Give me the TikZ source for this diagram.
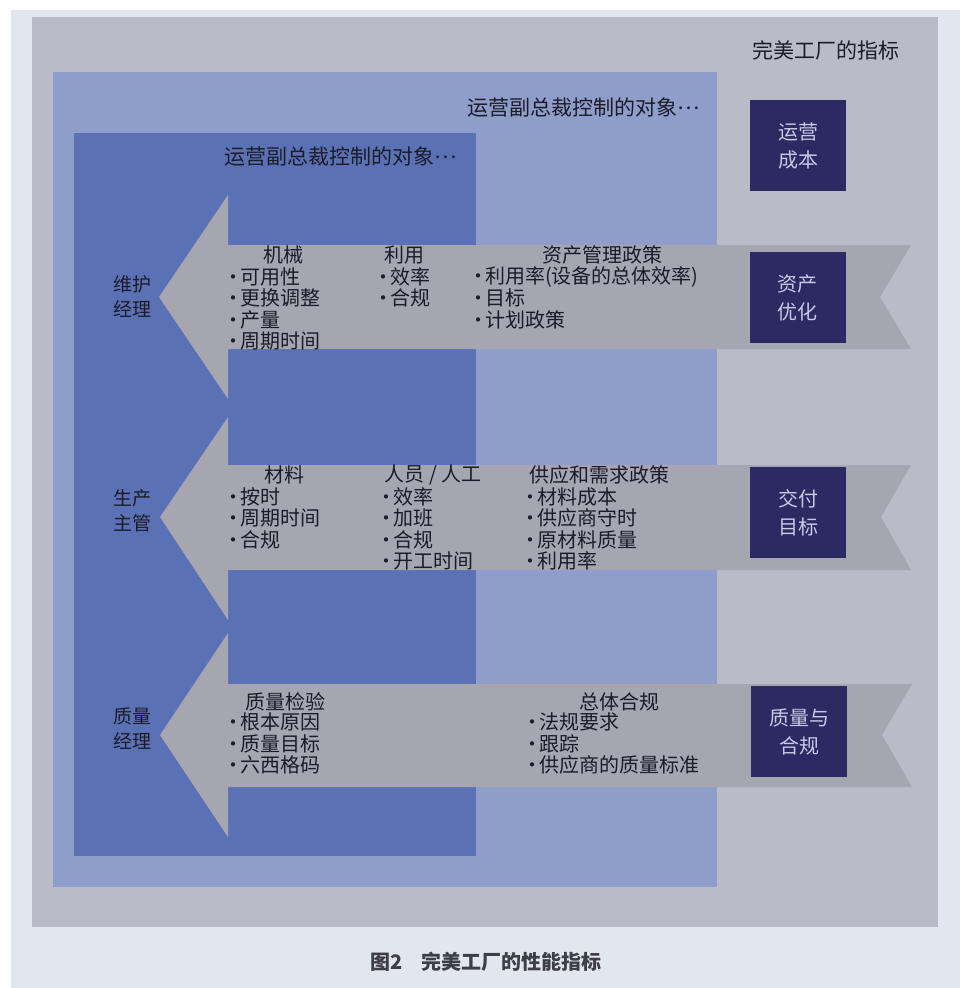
\documentclass[tikz,border=0pt]{standalone}
\usepackage{fontspec}
\setmainfont{Noto Sans CJK SC}
\definecolor{pagebg}{HTML}{E2E6EF}
\definecolor{panel}{HTML}{B9BBC6}
\definecolor{lightblue}{HTML}{8F9DCB}
\definecolor{darkblue}{HTML}{5B71B5}
\definecolor{arrowgray}{HTML}{A5A6AF}
\definecolor{navy}{HTML}{2C2A63}
\definecolor{boxtext}{HTML}{C8C9E6}
\definecolor{txt}{HTML}{1C1C28}
\newcommand{\mybul}{\makebox[13pt][c]{·}}
\newcommand{\myell}{\raisebox{0.32em}{…}}
\tikzset{
  bigarrow/.style={fill=arrowgray, draw=none},
  item/.style={font=\fontsize{20}{22}\selectfont, anchor=west, inner sep=0pt, text=txt},
  head/.style={font=\fontsize{20}{22}\selectfont, anchor=center, inner sep=0pt, text=txt},
  lefttag/.style={font=\fontsize{19}{25}\selectfont, align=center, inner sep=0pt, text=txt},
  navybox/.style={fill=navy, minimum width=96pt, minimum height=91pt, inner sep=0pt,
     align=center, text=boxtext, font=\fontsize{20}{28}\selectfont},
  vptext/.style={font=\fontsize{21}{23}\selectfont, inner sep=0pt, text=txt}
}
\begin{document}
\begin{tikzpicture}[x=1pt,y=-1pt]
\useasboundingbox (0,0) rectangle (962,988);
\fill[white] (0,0) rectangle (962,988);
\fill[pagebg] (11,10) rectangle (960,988);
\fill[panel] (32,17) rectangle (938,927);
\fill[lightblue] (53,72) rectangle (717,887);
\fill[darkblue] (74,133) rectangle (476,856);

% big arrows
\fill[bigarrow] (228,245) -- (911,245) -- (880,297) -- (911,349) -- (228,349)
  -- (228,399) -- (159,297) -- (228,195) -- cycle;
\fill[bigarrow] (228,465) -- (911,465) -- (881,517) -- (911,570) -- (228,570)
  -- (228,620) -- (160,517) -- (228,417) -- cycle;
\fill[bigarrow] (228,684) -- (912,684) -- (882,735) -- (912,787) -- (228,787)
  -- (228,837) -- (160,735) -- (228,633) -- cycle;

% titles
\node[vptext] (title) at (826,50) {完美工厂的指标};
\node[vptext, anchor=west] (vpouter) at (467,108) {运营副总裁控制的对象\myell};
\node[vptext, anchor=west] (vpinner) at (224,157) {运营副总裁控制的对象\myell};

% navy boxes
\node[navybox] (b1) at (798,145.5) {运营\\成本};
\node[navybox] (b2) at (797.5,297.5) {资产\\优化};
\node[navybox] (b3) at (798,512.5) {交付\\目标};
\node[navybox] (b4) at (799,731.5) {质量与\\合规};

% left labels
\node[lefttag] (l1) at (132,297) {维护\\经理};
\node[lefttag] (l2) at (132,511) {生产\\主管};
\node[lefttag] (l3) at (132,729) {质量\\经理};

% arrow 1 texts
\node[head] (h11) at (283,255) {机械};
\node[head] (h12) at (404,255) {利用};
\node[head] (h13) at (602,255) {资产管理政策};
\foreach \t [count=\i from 0] in {可用性,更换调整,产量,周期时间}
  \node[item] (a1c1-\i) at (227,{277+21.3*\i}) {\mybul\t};
\foreach \t [count=\i from 0] in {效率,合规}
  \node[item] (a1c2-\i) at (377,{277+21.3*\i}) {\mybul\t};
\foreach \t [count=\i from 0] in {利用率(设备的总体效率),目标,计划政策}
  \node[item] (a1c3-\i) at (472,{277+21.3*\i}) {\mybul\t};

% arrow 2 texts
\node[head] (h21) at (284,475) {材料};
\node[head] (h22) at (433,475) {人员 / 人工};
\node[head, anchor=west] (h23) at (529,475) {供应和需求政策};
\foreach \t [count=\i from 0] in {按时,周期时间,合规}
  \node[item] (a2c1-\i) at (227,{497+21.3*\i}) {\mybul\t};
\foreach \t [count=\i from 0] in {效率,加班,合规,开工时间}
  \node[item] (a2c2-\i) at (380,{497+21.3*\i}) {\mybul\t};
\foreach \t [count=\i from 0] in {材料成本,供应商守时,原材料质量,利用率}
  \node[item] (a2c3-\i) at (524,{497+21.3*\i}) {\mybul\t};

% arrow 3 texts
\node[head] (h31) at (285,702) {质量检验};
\node[head] (h32) at (619,702) {总体合规};
\foreach \t [count=\i from 0] in {根本原因,质量目标,六西格码}
  \node[item] (a3c1-\i) at (227,{722+21.5*\i}) {\mybul\t};
\foreach \t [count=\i from 0] in {法规要求,跟踪,供应商的质量标准}
  \node[item] (a3c2-\i) at (526,{722+21.5*\i}) {\mybul\t};

% caption
\node[font=\bfseries\fontsize{20}{22}\selectfont, text=txt!85!white, inner sep=0pt] (cap) at (486,962) {图2\hspace{0.9em}完美工厂的性能指标};
\end{tikzpicture}
\end{document}
